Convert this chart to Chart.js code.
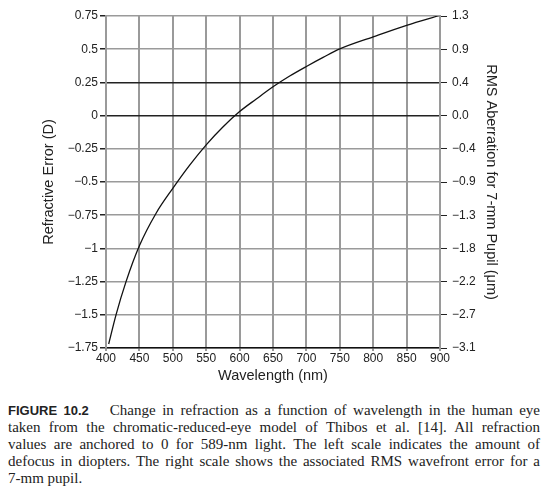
<!DOCTYPE html>
<html>
<head>
<meta charset="utf-8">
<script src="https://cdn.jsdelivr.net/npm/chart.js@4/dist/chart.umd.min.js"></script>
<style>
    body { margin: 0; background: #fff; width: 549px; height: 492px; position: relative; overflow: hidden; }
    #chart { position: absolute; left: 0; top: 0; }
    .caption { position: absolute; left: 8px; top: 402px; width: 532px; font: 15px/17px "Liberation Serif", serif; color: #222; }
    .caption div { text-align: justify; text-align-last: justify; white-space: nowrap; }
    .caption div.last { text-align-last: left; }
    .caption b { font: bold 13px "Liberation Sans", sans-serif; }
</style>
</head>
<body>
<canvas id="chart" width="549" height="395"></canvas>
<div class="caption">
    <div><b>FIGURE 10.2</b><span style="display:inline-block;width:21px"></span>Change in refraction as a function of wavelength in the human eye</div>
    <div>taken from the chromatic-reduced-eye model of Thibos et al. [14]. All refraction</div>
    <div>values are anchored to 0 for 589-nm light. The left scale indicates the amount of</div>
    <div>defocus in diopters. The right scale shows the associated RMS wavefront error for a</div>
    <div class="last">7-mm pupil.</div>
</div>
<script>
// curve
const wavelength = [404, 415, 430, 450, 475, 500, 525, 550, 575, 600, 625, 650, 675, 700, 725, 750, 800, 850, 900];
const refraction = [-1.72, -1.5, -1.25, -0.98, -0.735, -0.548, -0.375, -0.22, -0.086, 0.03, 0.125, 0.217, 0.298, 0.37, 0.438, 0.502, 0.593, 0.68, 0.755];

const leftLabels = ['\u22121.75', '\u22121.5', '\u22121.25', '\u22121', '\u22120.75', '\u22120.5', '\u22120.25', '0', '0.25', '0.5', '0.75'];
const rightLabels = ['\u22123.1', '\u22122.7', '\u22122.2', '\u22121.8', '\u22121.3', '\u22120.9', '\u22120.4', '0.0', '0.4', '0.9', '1.3'];

const tickFont = { family: '"Liberation Sans", Arial, sans-serif', size: 12 };
const titleFont = { family: '"Liberation Sans", Arial, sans-serif', size: 14.5 };

const points = wavelength.map((w, i) => ({ x: w, y: refraction[i] }));

new Chart(document.getElementById('chart'), {
    type: 'line',
    data: {
        datasets: [{
            data: points,
            borderColor: '#111',
            borderWidth: 1.3,
            pointRadius: 0,
            cubicInterpolationMode: 'monotone',
            fill: false
        }]
    },
    options: {
        responsive: false,
        animation: false,
        layout: { padding: { top: 16, left: 0, right: 0, bottom: 0 } },
        plugins: { legend: { display: false }, tooltip: { enabled: false } },
        scales: {
            x: {
                type: 'linear',
                min: 400,
                max: 900,
                ticks: { stepSize: 50, color: '#222', font: tickFont, padding: 0, maxRotation: 0 },
                grid: { color: '#9a9a9a', lineWidth: 2, tickLength: 3, tickColor: '#9a9a9a' },
                border: { color: '#111', width: 1.5 },
                title: { display: true, text: 'Wavelength (nm)', color: '#222', font: titleFont, padding: { bottom: 10 } },
                afterFit: s => { s.height = 47; }
            },
            y: {
                position: 'left',
                min: -1.75,
                max: 0.75,
                ticks: { stepSize: 0.25, color: '#222', font: tickFont, padding: 2, callback: (v, i) => leftLabels[i] },
                grid: {
                    color: ctx => (ctx.tick && (ctx.tick.value === 0 || ctx.tick.value === 0.25)) ? '#222' : '#9a9a9a',
                    lineWidth: 1.5,
                    tickLength: 6,
                    tickColor: '#222'
                },
                border: { color: '#9a9a9a', width: 2 },
                title: { display: true, text: 'Refractive Error (D)', color: '#222', font: titleFont, padding: { top: 40 } },
                afterFit: s => { s.width = 106; }
            },
            y2: {
                position: 'right',
                min: -1.75,
                max: 0.75,
                ticks: { stepSize: 0.25, color: '#222', font: tickFont, padding: 5, callback: (v, i) => rightLabels[i] },
                grid: { drawOnChartArea: false, tickLength: 7, tickColor: '#222' },
                border: { color: '#9a9a9a', width: 2 },
                title: { display: true, text: 'RMS Aberration for 7-mm Pupil (\u03bcm)', color: '#222', font: titleFont, padding: { top: 49 } },
                afterFit: s => { s.width = 109; }
            }
        }
    }
});
</script>
</body>
</html>
